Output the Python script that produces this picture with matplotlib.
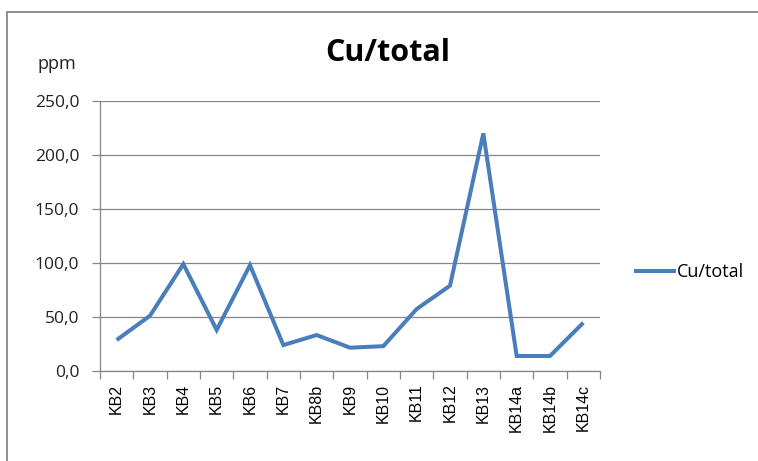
import matplotlib
matplotlib.use("Agg")
import matplotlib.pyplot as plt
from matplotlib.patches import Rectangle
from matplotlib.ticker import FuncFormatter, MultipleLocator

categories = ["KB2", "KB3", "KB4", "KB5", "KB6", "KB7", "KB8b", "KB9", "KB10",
              "KB11", "KB12", "KB13", "KB14a", "KB14b", "KB14c"]
values = [28.7, 51.2, 99.0, 38.0, 98.0, 24.0, 33.3, 21.6, 23.0,
          57.4, 79.0, 220.0, 13.9, 13.9, 44.7]
series_name = "Cu/total"
title = "Cu/total"
y_unit = "ppm"

W, H = 758, 461
fig = plt.figure(figsize=(W / 100, H / 100), dpi=100)
fig.patch.set_facecolor("white")

# outer chart border
fig.patches.append(Rectangle((7 / W, -0.1), 1.2, 1 - 12 / H + 0.1,
                             transform=fig.transFigure, fill=False,
                             edgecolor="#868686", linewidth=1.3))

left, right, top, bottom = 100, 600, 101, 371
ax = fig.add_axes([left / W, 1 - bottom / H, (right - left) / W, (bottom - top) / H])

x = list(range(len(categories)))
line, = ax.plot(x, values, color="#4A7EBB", linewidth=2.9, solid_joinstyle="miter",
                solid_capstyle="butt", label=series_name, zorder=3)

ax.set_xlim(-0.5, len(categories) - 0.5)
ax.set_ylim(0, 250)
ax.yaxis.set_major_locator(MultipleLocator(50))
ax.yaxis.set_major_formatter(FuncFormatter(lambda v, p: f"{v:.1f}".replace(".", ",")))
ax.grid(axis="y", color="#868686", linewidth=0.9, zorder=1)

ax.set_xticks([i - 0.5 for i in range(len(categories) + 1)], minor=False)
ax.set_xticklabels([])
ax.set_xticks(x, minor=True)
ax.set_xticklabels(categories, minor=True, rotation=90,
                   fontfamily="Liberation Sans", fontsize=11.5)
ax.tick_params(axis="x", which="major", length=6, width=0.9, color="#868686", direction="out")
ax.tick_params(axis="x", which="minor", length=0, pad=9)
ax.tick_params(axis="y", length=6, width=0.9, color="#868686", pad=9,
               labelsize=12.5)
for lab in ax.get_yticklabels():
    lab.set_fontfamily("Open Sans")
    lab.set_color("#222222")

for s in ["top", "right"]:
    ax.spines[s].set_visible(False)
ax.spines["left"].set_color("#868686")
ax.spines["bottom"].set_color("#868686")
ax.spines["left"].set_linewidth(0.9)
ax.spines["bottom"].set_linewidth(0.9)

fig.text(388 / W, 1 - 53 / H, title, ha="center", va="center",
         fontsize=22, fontweight="bold", fontfamily="Open Sans")
fig.text(57 / W, 1 - 64 / H, y_unit, ha="center", va="center",
         fontsize=13, fontfamily="Open Sans", color="#222222")

leg = fig.legend(handles=[line], loc="center left", bbox_to_anchor=(618 / W, 1 - 272 / H),
                 frameon=False, handlelength=2.3, handletextpad=0.05,
                 prop={"family": "Open Sans", "size": 13})

fig.savefig("out.png", dpi=100, facecolor="white")
